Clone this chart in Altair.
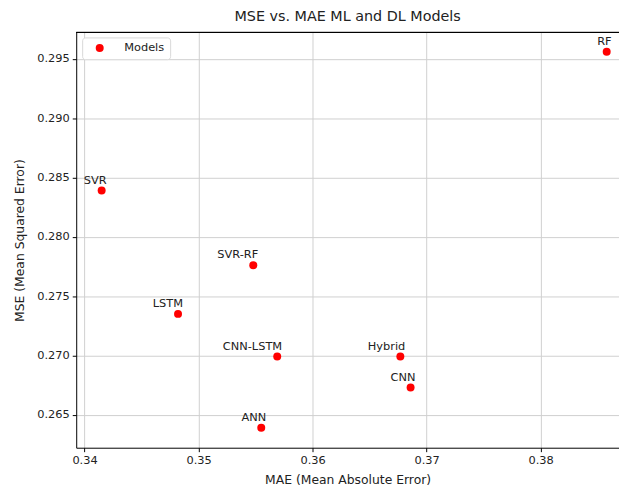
import altair as alt
import pandas as pd

models = ["RF", "SVR", "SVR-RF", "LSTM", "CNN-LSTM", "Hybrid", "CNN", "ANN"]
mae = [0.3858, 0.3415, 0.3548, 0.3482, 0.3569, 0.3677, 0.3686, 0.3555]
mse = [0.2956, 0.2839, 0.2776, 0.2735, 0.2699, 0.2699, 0.2673, 0.2639]
x_ticks = [0.34, 0.35, 0.36, 0.37, 0.38]
y_ticks = [0.265, 0.270, 0.275, 0.280, 0.285, 0.290, 0.295]

df = pd.DataFrame({"Model": models, "MAE": mae, "MSE": mse, "series": "Models"})

W, H = 549, 420
FONT = "DejaVu Sans"

xs = alt.Scale(domain=[0.33927, 0.38688], nice=False, zero=False)
ys = alt.Scale(domain=[0.26222, 0.29722], nice=False, zero=False)

x_enc = alt.X("MAE:Q", scale=xs, title="MAE (Mean Absolute Error)",
              axis=alt.Axis(values=x_ticks, format=".2f", titlePadding=8))
y_enc = alt.Y("MSE:Q", scale=ys, title="MSE (Mean Squared Error)",
              axis=alt.Axis(values=y_ticks, format=".3f", titlePadding=10))

points = alt.Chart(df).mark_point(filled=True, size=65, opacity=1).encode(
    x=x_enc,
    y=y_enc,
    color=alt.Color("series:N", scale=alt.Scale(range=["#ff0000"]),
                    legend=alt.Legend(title=None, orient="none", legendX=6, legendY=5)),
)

labels = alt.Chart(df).mark_text(align="right", baseline="alphabetic", dx=5, dy=-7,
                                 fontSize=11.5, font=FONT, color="#222222").encode(
    x=alt.X("MAE:Q", scale=xs),
    y=alt.Y("MSE:Q", scale=ys),
    text="Model:N",
)

top_line = alt.Chart(df).mark_rule(color="black", strokeWidth=1).encode(
    x=alt.value(0), x2=alt.value(W), y=alt.value(0)
)

chart = alt.layer(points, labels, top_line).properties(
    width=W, height=H,
    title=alt.TitleParams("MSE vs. MAE ML and DL Models", fontSize=14.5, font=FONT,
                          fontWeight="normal", color="#222222", offset=8),
    autosize=alt.AutoSizeParams(type="none"),
    padding={"left": 69, "top": 22, "right": 0, "bottom": 38},
).configure_view(stroke=None).configure_axis(
    domainColor="black", tickColor="black", tickSize=4, labelPadding=3,
    gridColor="#cfcfcf", gridWidth=1, labelFont=FONT, titleFont=FONT,
    labelFontSize=11.5, titleFontSize=12.5, labelColor="#222222", titleColor="#222222",
    titleFontWeight="normal",
).configure_legend(
    fillColor="white", strokeColor="#d9d9d9", cornerRadius=3, padding=5,
    symbolOffset=7, labelOffset=19, labelFont=FONT, labelFontSize=11.5,
    labelColor="#222222", symbolSize=65, symbolType="circle",
)

chart.save("out.html", embed_options={"renderer": "svg", "actions": False})
